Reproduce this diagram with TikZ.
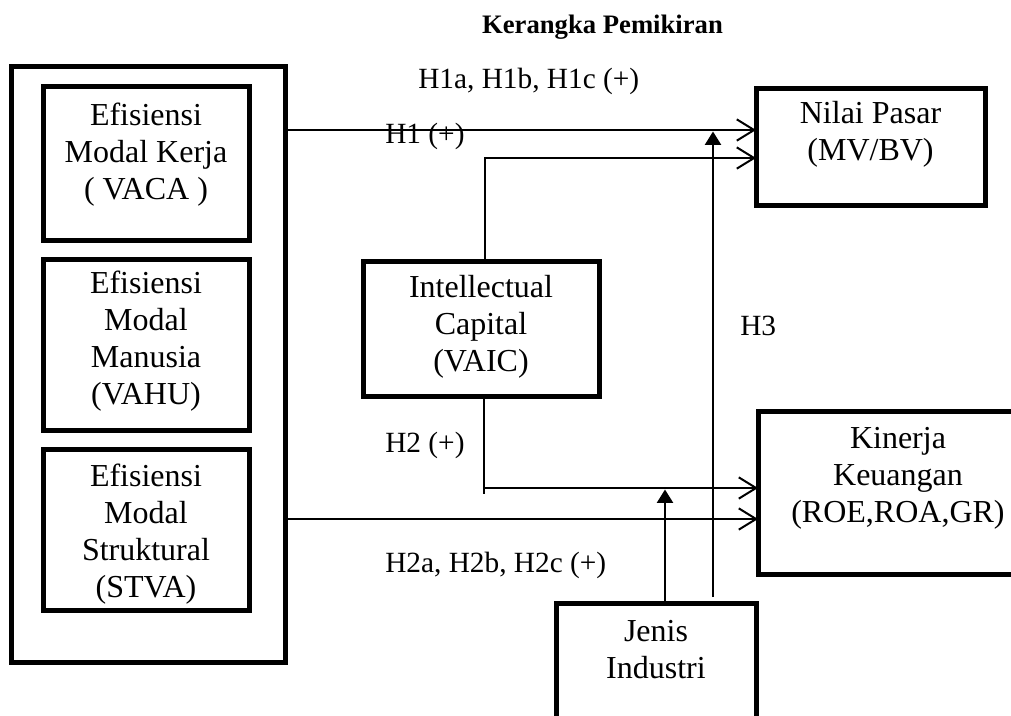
\documentclass[tikz,border=0pt]{standalone}
\usepackage{fontspec}
\setmainfont{Liberation Serif}
\usetikzlibrary{arrows.meta,fit,calc}
\tikzset{
  frame/.style={draw, line width=3.75pt, inner sep=0pt, outer sep=0pt},
  body/.style={align=center, inner sep=0pt, font=\fontsize{24}{27.75}\selectfont},
  hlab/.style={inner sep=0pt, anchor=base west, font=\fontsize{22}{26}\selectfont},
  conn/.style={line width=1.5pt},
  openarr/.style={conn, -{Straight Barb[length=13pt,width=16pt,line width=1.5pt]}},
  solidarr/.style={conn, -{Triangle[length=10pt,width=12pt]}},
}
\begin{document}
\begin{tikzpicture}[x=0.75pt,y=-0.75pt]
\useasboundingbox (0,0) rectangle (1011,715);
\clip (0,0) rectangle (1011,715);

% title
\node[anchor=base, inner sep=0pt, font=\fontsize{20}{24}\selectfont\bfseries] (title) at (602.5,33) {Kerangka Pemikiran};

% boxes
\node[frame, fit={(11,66)(285,662)}] (outer) {};
\node[frame, fit={(43,86)(249,240)}] (vaca) {};
\node[frame, fit={(43,259)(249,430)}] (vahu) {};
\node[frame, fit={(43,449)(249,610)}] (stva) {};
\node[frame, fit={(363,261)(599,396)}] (ic) {};
\node[frame, fit={(756,88)(985,205)}] (nilai) {};
\node[frame, fit={(758,411)(1040,574)}] (kinerja) {};
\node[frame, fit={(556,603)(756,740)}] (jenis) {};

% box texts
\node[body] (tvaca) at (146,155.5) {\strut Efisiensi\\ \strut Modal Kerja\\ \strut ( VACA )};
\node[body] (tvahu) at (146,342) {\strut Efisiensi\\ \strut Modal\\ \strut Manusia\\ \strut (VAHU)};
\node[body] (tstva) at (146,535) {\strut Efisiensi\\ \strut Modal\\ \strut Struktural\\ \strut (STVA)};
\node[body] (tic) at (481,327) {\strut Intellectual\\ \strut Capital\\ \strut (VAIC)};
\node[body] (tnilai) at (870.5,135) {\strut Nilai Pasar\\ \strut (MV/BV)};
\node[body] (tkinerja) at (898,478) {\strut Kinerja\\ \strut Keuangan\\ \strut (ROE,ROA,GR)};
\node[body] (tjenis) at (656,653) {\strut Jenis\\ \strut Industri};

% labels
\node[hlab] (lh1abc) at (418,88) {H1a, H1b, H1c (+)};
\node[hlab] (lh1) at (385,143) {H1 (+)};
\node[hlab] (lh3) at (740,335) {H3};
\node[hlab] (lh2) at (385,452) {H2 (+)};
\node[hlab] (lh2abc) at (385,572) {H2a, H2b, H2c (+)};

% connector helper points
\coordinate (ya) at (500,130);
\coordinate (h1c) at (485,158);
\coordinate (h3b) at (713,597);
\coordinate (h3t) at (713,131.5);
\coordinate (h2c) at (484,488);
\coordinate (h2e) at (484,494);
\coordinate (jx) at (665,489.5);
\coordinate (yb) at (500,519);

% connectors
\draw[openarr] (outer.east |- ya) -- (nilai.west |- ya);
\draw[openarr] (ic.north -| h1c) -- (h1c) -- (nilai.west |- h1c);
\draw[solidarr] (h3b) -- (h3t);
\draw[conn] (ic.south -| h2c) -- (h2e);
\draw[openarr] (h2c) -- (kinerja.west |- h2c);
\draw[openarr] (outer.east |- yb) -- (kinerja.west |- yb);
\draw[solidarr] (jenis.north -| jx) -- (jx);
\end{tikzpicture}
\end{document}
